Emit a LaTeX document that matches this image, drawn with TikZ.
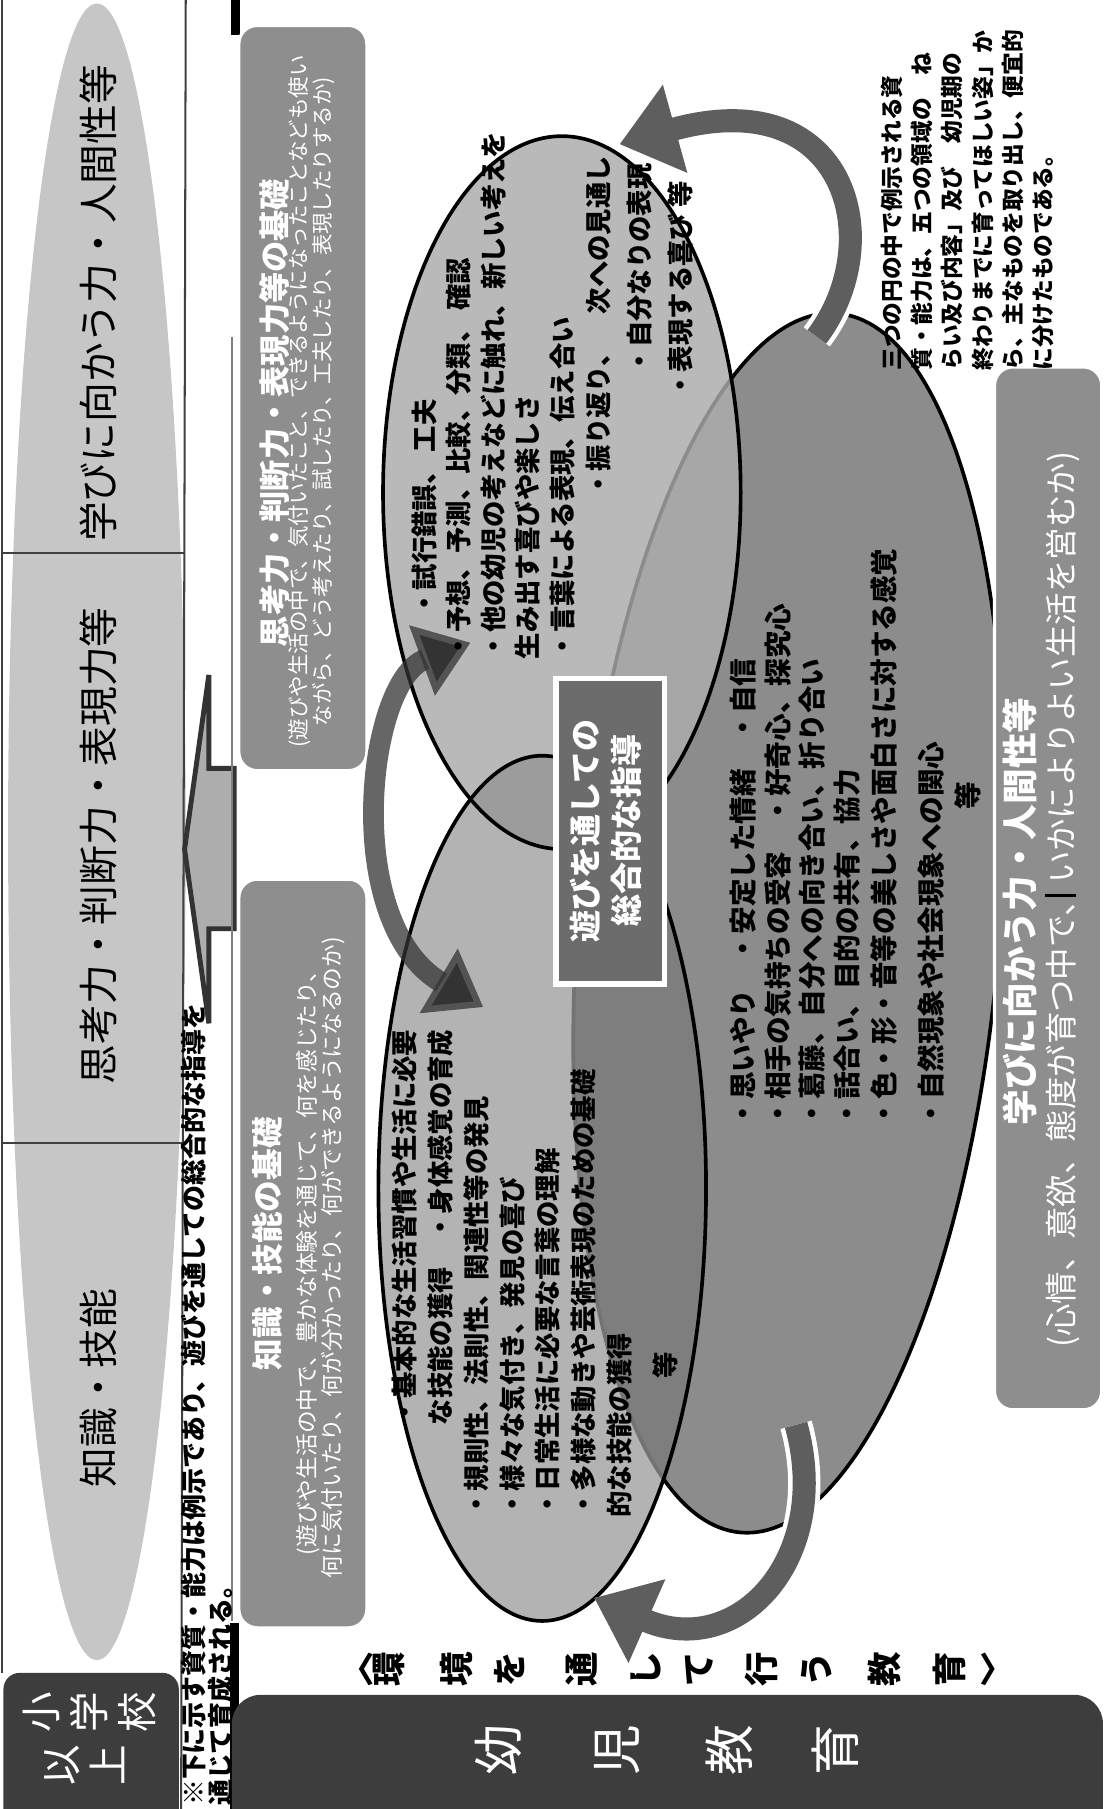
\documentclass[tikz,border=0pt]{standalone}
\usepackage{fontspec}
\setmainfont{Noto Sans CJK JP}
\usetikzlibrary{arrows.meta,shapes.geometric}

\definecolor{hdrgray}{HTML}{C6C6C6}
\definecolor{basegray}{HTML}{8E8E8E}
\definecolor{kinderdark}{HTML}{3D3D3D}
\definecolor{shikofill}{HTML}{B9B9B9}
\definecolor{chishikifill}{HTML}{B3B3B3}
\definecolor{manabifill}{HTML}{8C8C8C}
\definecolor{shikomanabi}{HTML}{A7A7A7}
\definecolor{chishikimanabi}{HTML}{7E7E7E}
\definecolor{shikochishiki}{HTML}{9C9C9C}
\definecolor{guidefill}{HTML}{6C6C6C}
\definecolor{arrowgray}{HTML}{5E5E5E}

% the three circles
\newcommand\shikoell{(487,427) ellipse [x radius=155, y radius=309]}
\newcommand\chishikiell{(470,1030) ellipse [x radius=142, y radius=375]}
\newcommand\manabiell{(684,800) ellipse [x radius=183, y radius=530]}

\begin{document}
\begin{tikzpicture}[x=0.1mm,y=-0.1mm,
  every node/.style={inner sep=0pt},
  manabirot/.style={rotate around={-4.5:(684,800)}},
  tline/.style={draw=black!75,line width=0.5pt},
  hdrtext/.style={rotate=90,font=\fontsize{9.8pt}{12pt}\selectfont},
  basebox/.style={fill=basegray,draw=white,line width=0.8pt,rounded corners=1.6mm},
  boxtitle/.style={rotate=90,text=white,font=\bfseries\fontsize{#1}{10pt}\selectfont},
  boxsub/.style={rotate=90,text=white,align=center,font=\fontsize{#1}{2.1mm}\selectfont},
  itemtext/.style 2 args={rotate=90,align=left,anchor=north west,font=\bfseries\fontsize{#1}{#2}\selectfont},
  tatechar/.style={rotate=90,font=\bfseries\fontsize{8.5pt}{10pt}\selectfont},
  outline/.style={draw=black,line width=0.9pt},
  whitearrow/.style={draw=white,line width=2.8mm,-{Triangle[length=6mm,width=9mm]}},
  grayarrow/.style={draw=arrowgray,line width=2.0mm,-{Triangle[length=5mm,width=7.6mm]}}]
\useasboundingbox (0,0) rectangle (958,1568);

% header column
\node[ellipse,fill=hdrgray,minimum width=15.4mm,minimum height=143.6mm] (hdrell) at (84,721) {};
\draw[tline] (2,0) -- (2,1450);
\draw[tline] (161,0) -- (157,1568);
\draw[tline] (2,479) -- (160,479);
\draw[tline] (2,991) -- (159,991);
\node[hdrtext] (hdrmanabi) at (85,263) {学びに向かう力・人間性等};
\node[hdrtext] (hdrshiko) at (85,733) {思考力・判断力・表現力等};
\node[hdrtext] (hdrchishiki) at (85,1203) {知識・技能};

% upward block arrow
\filldraw[fill=black!32,draw=black!80,line width=1.2pt] (160,736) -- (181,585) -- (181,666) -- (203,666)
  -- (203,805) -- (181,805) -- (181,887) -- cycle;
\draw[line width=2.2pt] (204,0) -- (204,30);
\draw[draw=black!50,line width=0.5pt] (201,292) -- (201,1405);
\draw[line width=2.2pt] (203,1407) -- (203,1568);

% note under the header
\node[rotate=90,anchor=north west,align=left,font=\bfseries\fontsize{6.4pt}{2.4mm}\selectfont] (note)
  at (156,1566) {※下に示す資質・能力は例示であり、遊びを通しての総合的な指導を\\通じて育成される。};

% school box
\fill[kinderdark,rounded corners=1.4mm] (3,1450) rectangle (155,1600);
\foreach \ch/\px [count=\i] in {小/36,学/77,校/119}
  \node[rotate=90,text=white,font=\fontsize{10pt}{12pt}\selectfont] (school\i) at (\px,1484) {\ch};
\foreach \ch/\px [count=\i] in {以/54,上/93}
  \node[rotate=90,text=white,font=\fontsize{10pt}{12pt}\selectfont] (upper\i) at (\px,1530) {\ch};

% kindergarten box
\fill[kinderdark,rounded corners=2.5mm] (201,1469) rectangle (956,1600);
\foreach \ch/\px [count=\i] in {幼/432,児/535,教/632,育/724}
  \node[rotate=90,text=white,font=\fontsize{12.5pt}{14pt}\selectfont] (kinder\i) at (\px,1517) {\ch};
\node[font=\bfseries\fontsize{8.5pt}{10pt}\selectfont] (envopen) at (310,1447) {〈};
\foreach \ch/\px [count=\i] in {環/337,境/396,を/442,通/504,し/560,て/606,行/660,う/708,教/767,育/823}
  \node[tatechar] (env\i) at (\px,1447) {\ch};
\node[font=\bfseries\fontsize{8.5pt}{10pt}\selectfont] (envclose) at (864,1447) {〉};

% basis boxes
\draw[basebox] (207,22) rectangle (318,668);
\node[boxtitle=7.7pt] (shikotitle) at (238,358) {思考力・判断力・表現力等の基礎};
\node[boxsub=5.3pt] (shikosub) at (270,348) {(遊びや生活の中で、気付いたこと、できるようになったことなども使い\\ながら、どう考えたり、試したり、工夫したり、表現したりするか)};
\draw[basebox] (207,762) rectangle (318,1411);
\node[boxtitle=7.8pt] (chishikititle) at (232,1078) {知識・技能の基礎};
\node[boxsub=5.6pt] (chishikisub) at (278,1090) {(遊びや生活の中で、豊かな体験を通じて、何を感じたり、\\何に気付いたり、何が分かったり、何ができるようになるのか)};

% three circles
\fill[manabifill,manabirot] \manabiell;
\draw[outline,manabirot] \manabiell;
\fill[shikofill] \shikoell;
\fill[chishikifill] \chishikiell;
\begin{scope}
  \clip \shikoell;
  \fill[shikomanabi,manabirot] \manabiell;
  \fill[shikochishiki] \chishikiell;
  \draw[draw=black!45,line width=0.9pt,manabirot] \manabiell;
\end{scope}
\begin{scope}
  \clip \chishikiell;
  \fill[chishikimanabi,manabirot] \manabiell;
  \draw[draw=black!55,line width=0.9pt,manabirot] \manabiell;
\end{scope}
\draw[outline] \shikoell;
\draw[outline] \chishikiell;

\draw[basebox] (862,318) rectangle (955,1222);
\node[boxtitle=8.8pt] (manabititle) at (884,790) {学びに向かう力・人間性等};
\node[rotate=90,text=white,font=\fontsize{8pt}{10pt}\selectfont] (manabisub) at (921,780) {(心情、意欲、態度が育つ中で、いかによりよい生活を営むか)};
\draw[line width=0.7pt] (906,776) -- (933,776);

% arrows between the circles
\draw[whitearrow] (708,292) .. controls (770,210) and (735,70) .. (537,125);
\draw[grayarrow] (708,292) .. controls (770,210) and (735,70) .. (537,125);
\draw[whitearrow] (690,1235) .. controls (722,1350) and (640,1440) .. (515,1385);
\draw[grayarrow] (690,1235) .. controls (722,1350) and (640,1440) .. (515,1385);
\draw[draw=black!80,draw opacity=0.75,line width=1.8mm,{Triangle[length=4.5mm,width=6.2mm]}-{Triangle[length=4.5mm,width=6.2mm]}]
  (408,557) .. controls (318,590) and (295,800) .. (419,873);

% centre box
\draw[fill=guidefill,draw=white,line width=1.3pt] (482,588) rectangle (576,853);
\node[rotate=90,text=white,align=center,font=\bfseries\fontsize{7.9pt}{3.5mm}\selectfont] (guide) at (525,720) {遊びを通しての\\総合的な指導};

% items of the thinking circle
\node[itemtext={6.5pt}{3.0mm}] (shiko1) at (356,535) {・試行錯誤、 工夫};
\node[itemtext={6.5pt}{3.0mm}] (shiko2) at (386,572) {・予想、予測、比較、分類、 確認\\・他の幼児の考えなどに触れ、新しい考えを\\生み出す喜びや楽しさ\\・言葉による表現、伝え合い};
\node[itemtext={6.5pt}{3.0mm}] (shiko3) at (507,432) {・振り返り、　次への見通し};
\node[itemtext={6.5pt}{3.0mm}] (shiko4) at (543,325) {・自分なりの表現};
\node[itemtext={6.5pt}{3.0mm}] (shiko5) at (578,346) {・表現する喜び 等};

% items of the knowledge circle
\node[itemtext={6.5pt}{3.1mm}] (chishiki1) at (339,1236) {・基本的な生活習慣や生活に必要\\な技能の獲得　・身体感覚の育成};
\node[itemtext={6.5pt}{3.1mm}] (chishiki2) at (401,1316) {・規則性、法則性、関連性等の発見\\・様々な気付き、発見の喜び\\・日常生活に必要な言葉の理解\\・多様な動きや芸術表現のための基礎\\的な技能の獲得};
\node[rotate=90,font=\bfseries\fontsize{6.5pt}{8pt}\selectfont] (chishiki3) at (577,1183) {等};

% items of the learning circle
\node[itemtext={6.8pt}{3.0mm}] (manabi1) at (632,978) {・思いやり　・安定した情緒　・自信\\・相手の気持ちの受容　・好奇心、探究心\\・葛藤、自分への向き合い、折り合い\\・話合い、目的の共有、協力\\[0.2mm]・色・形・音等の美しさや面白さに対する感覚\\[1.1mm]・自然現象や社会現象への関心};
\node[rotate=90,font=\bfseries\fontsize{6.8pt}{8pt}\selectfont] (manabi2) at (839,690) {等};

% remark
\node[itemtext={5.6pt}{2.62mm}] (remark) at (763,322) {三つの円の中で例示される資\\質・能力は、五つの領域の　ね\\らい及び内容」及び　幼児期の\\終わりまでに育ってほしい姿」か\\ら、主なものを取り出し、便宜的\\に分けたものである。};
\end{tikzpicture}
\end{document}
